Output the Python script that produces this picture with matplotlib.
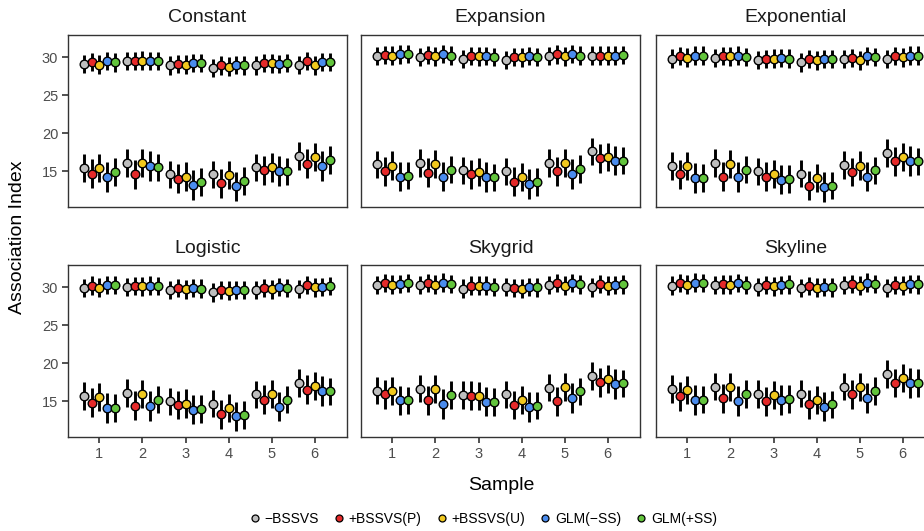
import matplotlib
matplotlib.use("Agg")
import matplotlib.pyplot as plt
from matplotlib.lines import Line2D
import numpy as np

plt.rcParams['font.family'] = ['Liberation Sans', 'DejaVu Sans']

# === Datos ===
samples = [1, 2, 3, 4, 5, 6]
methods = ['\u2212BSSVS', '+BSSVS(P)', '+BSSVS(U)', 'GLM(\u2212SS)', 'GLM(+SS)']
colores = ['#BEBEBE', '#E52A2A', '#F0C81E', '#4A8CEE', '#62C43C']
modelos = ['Constant', 'Expansion', 'Exponential', 'Logistic', 'Skygrid', 'Skyline']

# valor superior / inferior (una lista por metodo, un valor por muestra)
constant_hi = [[29.1, 29.5, 28.9, 28.6, 28.9, 29.0],
               [29.4, 29.5, 29.1, 28.9, 29.2, 29.5],
               [29.0, 29.5, 29.0, 28.7, 29.2, 28.9],
               [29.5, 29.5, 29.2, 29.0, 29.1, 29.4],
               [29.3, 29.5, 29.2, 28.9, 29.2, 29.4]]
constant_lo = [[15.4, 16.1, 14.6, 14.6, 15.5, 17.0],
               [14.7, 14.6, 14.0, 13.4, 15.1, 16.0],
               [15.4, 16.1, 14.3, 14.5, 15.5, 16.9],
               [14.2, 15.7, 13.2, 13.0, 15.0, 15.7],
               [14.9, 15.5, 13.6, 13.7, 15.0, 16.5]]

expansion_hi = [[30.1, 30.0, 29.7, 29.6, 30.1, 30.2],
                [30.3, 30.3, 30.1, 30.0, 30.35, 30.2],
                [30.2, 30.1, 30.1, 30.0, 30.1, 30.2],
                [30.35, 30.4, 30.1, 30.1, 30.4, 30.2],
                [30.4, 30.2, 30.0, 30.0, 30.2, 30.3]]
expansion_lo = [[15.9, 16.1, 15.1, 15.0, 16.1, 17.6],
                [15.0, 14.8, 14.6, 13.6, 15.0, 16.7],
                [15.75, 16.0, 14.9, 14.2, 16.1, 16.9],
                [14.3, 14.3, 14.2, 13.3, 14.6, 16.4],
                [14.4, 15.2, 14.2, 13.6, 15.3, 16.4]]

exponential_hi = [[29.8, 29.9, 29.6, 29.3, 29.7, 29.7],
                  [30.1, 30.1, 29.7, 29.7, 29.9, 30.1],
                  [29.9, 30.1, 29.8, 29.6, 29.6, 30.0],
                  [30.2, 30.2, 29.9, 29.7, 30.1, 30.2],
                  [30.2, 30.0, 29.8, 29.7, 30.0, 30.2]]
exponential_lo = [[15.7, 16.1, 15.0, 14.7, 15.8, 17.4],
                  [14.6, 14.3, 14.3, 13.1, 14.9, 16.3],
                  [15.7, 15.9, 14.6, 14.1, 15.75, 16.9],
                  [14.1, 14.2, 13.9, 12.9, 14.3, 16.3],
                  [14.1, 15.2, 14.0, 13.1, 15.1, 16.3]]

logistic_hi = [[29.9, 30.0, 29.65, 29.3, 29.6, 29.7],
               [30.2, 30.1, 29.9, 29.6, 29.9, 30.3],
               [29.9, 30.1, 29.7, 29.5, 29.7, 30.0],
               [30.3, 30.2, 29.9, 29.65, 30.0, 30.0],
               [30.3, 30.1, 29.8, 29.65, 29.9, 30.1]]
logistic_lo = [[15.7, 16.1, 15.0, 14.7, 15.9, 17.4],
               [14.8, 14.4, 14.5, 13.3, 15.2, 16.5],
               [15.6, 16.0, 14.7, 14.1, 15.9, 17.0],
               [14.1, 14.4, 13.9, 13.0, 14.3, 16.3],
               [14.1, 15.2, 14.0, 13.2, 15.2, 16.3]]

skygrid_hi = [[30.3, 30.3, 29.8, 30.0, 30.3, 29.95],
              [30.5, 30.5, 30.2, 29.9, 30.5, 30.4],
              [30.3, 30.3, 30.2, 29.8, 30.2, 30.2],
              [30.4, 30.6, 30.2, 30.0, 30.5, 30.3],
              [30.5, 30.4, 30.0, 29.95, 30.35, 30.35]]
skygrid_lo = [[16.4, 16.65, 15.8, 15.9, 16.8, 18.3],
              [15.9, 15.1, 15.7, 14.5, 15.0, 17.5],
              [16.3, 16.6, 15.7, 15.2, 16.9, 17.9],
              [15.1, 14.65, 14.95, 14.2, 15.4, 17.3],
              [15.1, 15.8, 14.9, 14.4, 16.3, 17.35]]

skyline_hi = [[30.2, 30.3, 30.0, 29.9, 30.3, 29.9],
              [30.5, 30.35, 30.3, 30.1, 30.4, 30.3],
              [30.3, 30.3, 30.1, 29.9, 30.2, 30.2],
              [30.6, 30.5, 30.3, 30.0, 30.6, 30.4],
              [30.5, 30.3, 30.35, 29.95, 30.4, 30.35]]
skyline_lo = [[16.6, 16.9, 15.95, 16.0, 16.9, 18.6],
              [15.65, 15.4, 15.0, 14.6, 15.9, 17.4],
              [16.5, 16.85, 15.8, 15.2, 16.9, 18.0],
              [15.2, 15.0, 15.2, 14.3, 15.4, 17.4],
              [15.2, 15.95, 15.3, 14.6, 16.35, 17.4]]

# semiancho de las barras de error por metodo
err_hi = [1.2, 1.2, 1.25, 1.2, 1.2]
err_lo = [1.8, 1.9, 1.85, 1.95, 1.8]

datos = {
    'Constant': (constant_hi, constant_lo),
    'Expansion': (expansion_hi, expansion_lo),
    'Exponential': (exponential_hi, exponential_lo),
    'Logistic': (logistic_hi, logistic_lo),
    'Skygrid': (skygrid_hi, skygrid_lo),
    'Skyline': (skyline_hi, skyline_lo),
}

# === Graficar ===
W, H = 924, 531
fig = plt.figure(figsize=(W / 100, H / 100), dpi=100)

col_x = [68, 361, 656]
fila_y = [35, 265]
ancho, alto = 279, 172

dodge = 0.18
x = np.array(samples, dtype=float)

for k, modelo in enumerate(modelos):
    fila, col = divmod(k, 3)
    ax = fig.add_axes([col_x[col] / W, 1 - (fila_y[fila] + alto) / H, ancho / W, alto / H])
    hi, lo = datos[modelo]
    # primero las barras, luego los puntos (como en ggplot)
    for j in range(5):
        xs = x + (j - 2) * dodge
        for vals, e in ((hi[j], err_hi[j]), (lo[j], err_lo[j])):
            v = np.array(vals)
            ax.vlines(xs, v - e, v + e, color='black', linewidth=2.1, zorder=2)
    for j in range(5):
        xs = x + (j - 2) * dodge
        for vals in (hi[j], lo[j]):
            ax.plot(xs, vals, 'o', ms=6.2, mfc=colores[j], mec='black', mew=1.0,
                    linestyle='none', zorder=3)

    ax.set_xlim(0.27, 6.75)
    ax.set_ylim(10.3, 32.9)
    ax.set_yticks([15, 20, 25, 30])
    ax.set_xticks(samples)
    ax.set_title(modelo, fontsize=14, pad=9, color='#1A1A1A')
    for s in ax.spines.values():
        s.set_color('#333333')
        s.set_linewidth(1.0)
    ax.tick_params(direction='out', length=4, width=1.2, color='#333333',
                   labelsize=10.5, labelcolor='#4D4D4D', pad=3)
    if col != 0:
        ax.tick_params(axis='y', left=False, labelleft=False)
    if fila == 0:
        ax.tick_params(axis='x', bottom=False, labelbottom=False)

fig.text(18 / W, 1 - 237 / H, 'Association Index', rotation=90, ha='center', va='center',
         fontsize=14, color='black')
fig.text(501 / W, 1 - 486 / H, 'Sample', ha='center', va='center', fontsize=14, color='black')

handles = [Line2D([0], [0], marker='o', linestyle='none', ms=5, mfc=c, mec='black', mew=0.9)
           for c in colores]
fig.legend(handles, methods, loc='center', bbox_to_anchor=(482 / W, 1 - 519 / H), ncol=5,
           frameon=False, fontsize=10, handletextpad=0.15, columnspacing=0.9, handlelength=1.1)

fig.savefig('out.png', dpi=100)
